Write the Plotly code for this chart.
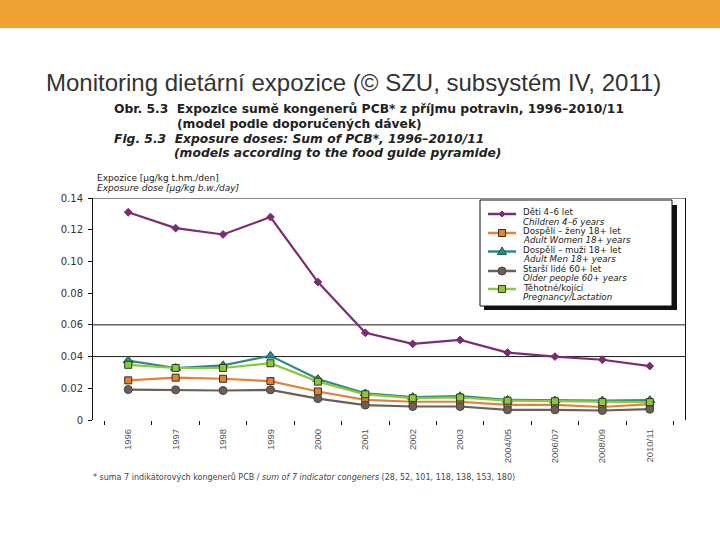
import plotly.graph_objects as go

categories = ["1996", "1997", "1998", "1999", "2000", "2001", "2002", "2003",
              "2004/05", "2006/07", "2008/09", "2010/11"]

children = [0.131, 0.121, 0.117, 0.128, 0.087, 0.055, 0.048, 0.0505, 0.0425, 0.040, 0.038, 0.034]
women = [0.025, 0.0267, 0.026, 0.0245, 0.018, 0.0127, 0.0115, 0.0115, 0.0095, 0.0095, 0.0082, 0.010]
men = [0.0375, 0.0328, 0.0345, 0.0405, 0.0258, 0.0168, 0.0145, 0.015, 0.0127, 0.0123, 0.0123, 0.0125]
older = [0.0192, 0.019, 0.0186, 0.019, 0.0135, 0.0094, 0.0085, 0.0085, 0.0064, 0.0064, 0.006, 0.0068]
pregnancy = [0.0348, 0.0328, 0.0328, 0.0358, 0.0242, 0.0162, 0.0138, 0.0142, 0.0122, 0.0118, 0.0113, 0.0113]

series_cz = ["Děti 4–6 let", "Dospělí – ženy 18+ let", "Dospělí – muži 18+ let",
             "Starší lidé 60+ let", "Těhotné/kojící"]
series_en = ["Children 4–6 years", "Adult Women 18+ years", "Adult Men 18+ years",
             "Older people 60+ years", "Pregnancy/Lactation"]

y_ticks = [0, 0.02, 0.04, 0.06, 0.08, 0.10, 0.12, 0.14]
y_tick_labels = ["0", "0.02", "0.04", "0.06", "0.08", "0.10", "0.12", "0.14"]

SANS = "Liberation Sans, Arial, sans-serif"
WIDE = "DejaVu Sans, Verdana, sans-serif"
TXT = "#333333"

colors = ["#7B2D72", "#E2813A", "#2E8A80", "#6B6058", "#8DC641"]
outlines = ["#7B2D72", "#3a2a1a", "#1d5e58", "#4a423c", "#2d3d15"]
symbols = ["diamond", "square", "triangle-up", "circle", "square"]
sizes = [6, 7, 9, 8, 7]
values = [children, women, men, older, pregnancy]

fig = go.Figure()
for i in range(5):
    fig.add_trace(go.Scatter(
        x=categories, y=values[i], name=series_cz[i] + " / " + series_en[i],
        mode="lines+markers", line=dict(color=colors[i], width=2.2),
        marker=dict(symbol=symbols[i], size=sizes[i], color=colors[i],
                    line=dict(color=outlines[i], width=1))))

L, T, W, H = 93, 198, 592, 222


def px_x(px):
    return (px - L) / float(W)


def px_y(py):
    return (T + H - py) / float(H)


def rect(x0, y0, x1, y1, fill, line_col=None, lw=0):
    fig.add_shape(type="rect", xref="paper", yref="paper",
                  x0=px_x(x0), x1=px_x(x1), y0=px_y(y1), y1=px_y(y0),
                  fillcolor=fill, line=dict(color=line_col or fill, width=lw), layer="above")


def path(pts, fill, line_col, lw=1):
    d = "M " + " L ".join("%.5f,%.5f" % (px_x(a), px_y(b)) for a, b in pts) + " Z"
    fig.add_shape(type="path", xref="paper", yref="paper", path=d, fillcolor=fill,
                  line=dict(color=line_col, width=lw), layer="above")


# orange band at the top of the slide
fig.add_shape(type="rect", xref="paper", yref="paper", x0=px_x(-5), x1=px_x(725),
              y0=px_y(28), y1=px_y(-5), fillcolor="#EFA131", line=dict(width=0), layer="below")

# grid lines and top border
for gy in [0.04, 0.06, 0.14]:
    fig.add_shape(type="line", xref="paper", yref="y", x0=0, x1=1, y0=gy, y1=gy,
                  line=dict(color="#1a1a1a", width=1), layer="below")

# legend box with shadow
rect(484, 205, 677, 310, "#111111")
rect(480, 200, 672, 306, "white", "#111111", 1)
sample_y = [214, 233, 251.5, 271, 289]
text_y1 = [212, 230.5, 249.5, 268.5, 287.5]
for i in range(5):
    cy = sample_y[i]
    fig.add_shape(type="line", xref="paper", yref="paper", x0=px_x(488), x1=px_x(516),
                  y0=px_y(cy), y1=px_y(cy), line=dict(color=colors[i], width=2.5), layer="above")
    cx = 502
    s = symbols[i]
    if s == "diamond":
        path([(cx, cy - 3), (cx + 3, cy), (cx, cy + 3), (cx - 3, cy)], colors[i], colors[i])
    elif s == "square":
        rect(cx - 3.5, cy - 3.5, cx + 3.5, cy + 3.5, colors[i], outlines[i], 1)
    elif s == "triangle-up":
        path([(cx, cy - 4.5), (cx + 4.5, cy + 3), (cx - 4.5, cy + 3)], colors[i], outlines[i])
    else:
        fig.add_shape(type="circle", xref="paper", yref="paper",
                      x0=px_x(cx - 4), x1=px_x(cx + 4), y0=px_y(cy + 4), y1=px_y(cy - 4),
                      fillcolor=colors[i], line=dict(color=outlines[i], width=1), layer="above")
    fig.add_annotation(text=series_cz[i], xref="paper", yref="paper", x=px_x(521),
                       y=px_y(text_y1[i]), xanchor="left", yanchor="middle", showarrow=False,
                       font=dict(family=WIDE, size=8.7, color="#222222"))
    fig.add_annotation(text="<i>" + series_en[i] + "</i>", xref="paper", yref="paper",
                       x=px_x(521), y=px_y(text_y1[i] + 9.8), xanchor="left", yanchor="middle",
                       showarrow=False, font=dict(family=WIDE, size=8.7, color="#222222"))

annots = [
    ("Monitoring dietární expozice (© SZU, subsystém IV, 2011)", 353, 82, "center", 24, SANS, TXT),
    ("<b>Obr. 5.3  Expozice sumě kongenerů PCB* z příjmu potravin, 1996–2010/11</b>", 112, 109.5, "left", 12.3, WIDE, "#222222"),
    ("<b>(model podle doporučených dávek)</b>", 175, 124, "left", 12.3, WIDE, "#222222"),
    ("<b><i>Fig. 5.3  Exposure doses: Sum of PCB*, 1996–2010/11</i></b>", 112, 138.5, "left", 12.3, WIDE, "#222222"),
    ("<b><i>(models according to the food guide pyramide)</i></b>", 172, 153, "left", 12.3, WIDE, "#222222"),
    ("Expozice [µg/kg t.hm./den]", 95, 178, "left", 9, WIDE, "#222222"),
    ("<i>Exposure dose [µg/kg b.w./day]</i>", 95, 188, "left", 9, WIDE, "#222222"),
    ("* suma 7 indikátorových kongenerů PCB / <i>sum of 7 indicator congeners</i> (28, 52, 101, 118, 138, 153, 180)",
     91, 477, "left", 8, WIDE, "#444444"),
]
for text, x, y, anchor, size, fam, col in annots:
    fig.add_annotation(text=text, xref="paper", yref="paper", x=px_x(x), y=px_y(y),
                       xanchor=anchor, yanchor="middle", showarrow=False,
                       font=dict(family=fam, size=size, color=col))

fig.update_layout(
    width=720, height=540,
    margin=dict(l=L, r=720 - L - W, t=T, b=540 - T - H),
    paper_bgcolor="white", plot_bgcolor="white",
    font=dict(family=SANS, color=TXT),
    showlegend=False,
    xaxis=dict(type="category", categoryorder="array", categoryarray=categories,
               showgrid=False, showline=False, zeroline=False,
               ticks="outside", tickson="boundaries", ticklen=4, tickcolor="#111111",
               tickangle=-90, ticklabelstandoff=6,
               tickfont=dict(family=SANS, size=9.5, color="#555555")),
    yaxis=dict(range=[0, 0.14], tickvals=y_ticks, ticktext=y_tick_labels,
               showgrid=False, zeroline=False, showline=True, mirror=True,
               linecolor="#111111", linewidth=1, ticks="outside", ticklen=4,
               ticklabelstandoff=3,
               tickcolor="#111111", tickfont=dict(family=WIDE, size=10, color="#333333")),
)

fig.write_html("out.html", config={"displayModeBar": False},
               post_script="document.body.style.margin='0px';")
